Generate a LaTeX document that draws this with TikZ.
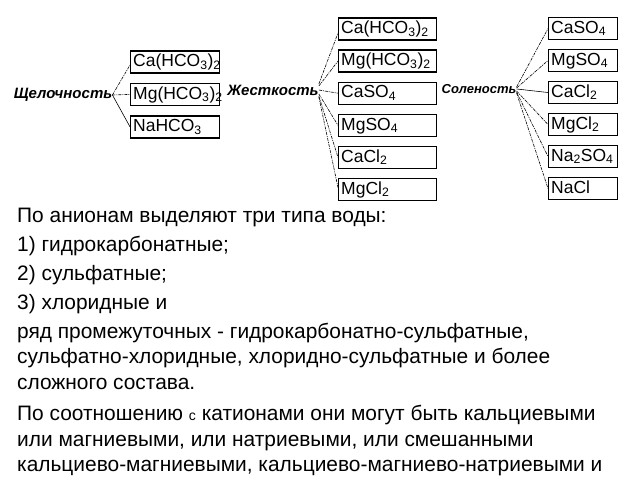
\documentclass[tikz,border=0pt]{standalone}
\usepackage{fontspec}
\setmainfont{Liberation Sans}
\usetikzlibrary{positioning}

\tikzset{
  salt/.style={draw, line width=1.4pt, rectangle, inner xsep=2.5pt, inner ysep=0pt,
    minimum height=22pt, text height=12.5pt, text depth=3pt, align=left,
    font=\fontsize{17.5}{17.5}\selectfont},
  type label/.style={inner sep=0pt, font=\fontsize{15}{15}\selectfont\itshape\bfseries},
  link/.style={line width=0.6pt, dash pattern=on 3pt off 1pt on 1pt off 1pt},
  link plain/.style={line width=0.6pt},
  body/.style={anchor=west, inner sep=0pt, text height=15pt, text depth=4.5pt,
    font=\fontsize{20.9}{24}\selectfont}
}

\begin{document}
\begin{tikzpicture}[x=1pt,y=-1pt]
  \useasboundingbox[fill=white] (0,0) rectangle (640,480);

  % щелочность
  \node[type label] (shch) at (63,95) {Щелочность};
  \node[salt, text width=84pt, anchor=west] (a1) at (130,62) {Ca(HCO\textsubscript{3})\textsubscript{2}};
  \node[salt, text width=84pt, below=9pt of a1] (a2) {Mg(HCO\textsubscript{3})\textsubscript{2}};
  \node[salt, text width=84pt, below=9pt of a2] (a3) {NaHCO\textsubscript{3}};

  % жесткость
  \node[type label] (zh) at (273,90) {Жесткость};
  \node[salt, text width=93pt, anchor=west] (m1) at (338,29) {Ca(HCO\textsubscript{3})\textsubscript{2}};
  \node[salt, text width=93pt, below=8.7pt of m1] (m2) {Mg(HCO\textsubscript{3})\textsubscript{2}};
  \node[salt, text width=93pt, below=8.7pt of m2] (m3) {CaSO\textsubscript{4}};
  \node[salt, text width=93pt, below=8.7pt of m3] (m4) {MgSO\textsubscript{4}};
  \node[salt, text width=93pt, below=8.7pt of m4] (m5) {CaCl\textsubscript{2}};
  \node[salt, text width=93pt, below=8.7pt of m5] (m6) {MgCl\textsubscript{2}};

  % соленость
  \node[type label, font=\fontsize{13}{13}\selectfont\itshape\bfseries] (sol) at (479,89) {Соленость};
  \node[salt, text width=64pt, anchor=west] (s1) at (548,28.5) {CaSO\textsubscript{4}};
  \node[salt, text width=64pt, below=8.6pt of s1] (s2) {MgSO\textsubscript{4}};
  \node[salt, text width=64pt, below=8.6pt of s2] (s3) {CaCl\textsubscript{2}};
  \node[salt, text width=64pt, below=8.6pt of s3] (s4) {MgCl\textsubscript{2}};
  \node[salt, text width=64pt, below=8.6pt of s4] (s5) {Na\textsubscript{2}SO\textsubscript{4}};
  \node[salt, text width=64pt, below=8.6pt of s5] (s6) {NaCl};

  \draw[link] (shch.east) -- ([yshift=-3pt]a1.west);
  \draw[link] (shch.east) -- (a2.west);
  \draw[link plain] (shch.east) -- (a3.west);

  \draw[link] ([yshift=6pt]zh.east) -- ([yshift=-4pt]m1.west);
  \draw[link] ([yshift=4pt]zh.east) -- (m2.west);
  \draw[link] (zh.east) -- (m3.west);
  \draw[link] ([yshift=-4pt]zh.east) -- (m4.west);
  \draw[link] ([yshift=-6pt]zh.east) -- (m5.west);
  \draw[link] ([yshift=-7pt]zh.east) -- ([yshift=2pt]m6.west);

  \draw[link] ([yshift=2pt]sol.east) -- (s1.west);
  \draw[link] ([yshift=1pt]sol.east) -- (s2.west);
  \draw[link plain] (sol.east) -- (s3.west);
  \draw[link] ([yshift=-2pt]sol.east) -- (s4.west);
  \draw[link] ([yshift=-3pt]sol.east) -- (s5.west);
  \draw[link] ([yshift=-4pt]sol.east) -- (s6.west);

  % текст
  \node[body] (t1) at (17,217) {По анионам выделяют три типа воды:};
  \node[body] (t2) at (17,246) {1) гидрокарбонатные;};
  \node[body] (t3) at (17,275) {2) сульфатные;};
  \node[body] (t4) at (17,304) {3) хлоридные и};
  \node[body] (t5) at (17,333) {ряд промежуточных - гидрокарбонатно-сульфатные,};
  \node[body] (t6) at (17,358) {сульфатно-хлоридные, хлоридно-сульфатные и более};
  \node[body] (t7) at (17,384) {сложного состава.};
  \node[body] (t8) at (17,415) {По соотношению {\fontsize{14}{14}\selectfont с} катионами они могут быть кальциевыми};
  \node[body] (t9) at (17,441) {или магниевыми, или натриевыми, или смешанными};
  \node[body] (t10) at (17,466) {кальциево-магниевыми, кальциево-магниево-натриевыми и};
\end{tikzpicture}
\end{document}
